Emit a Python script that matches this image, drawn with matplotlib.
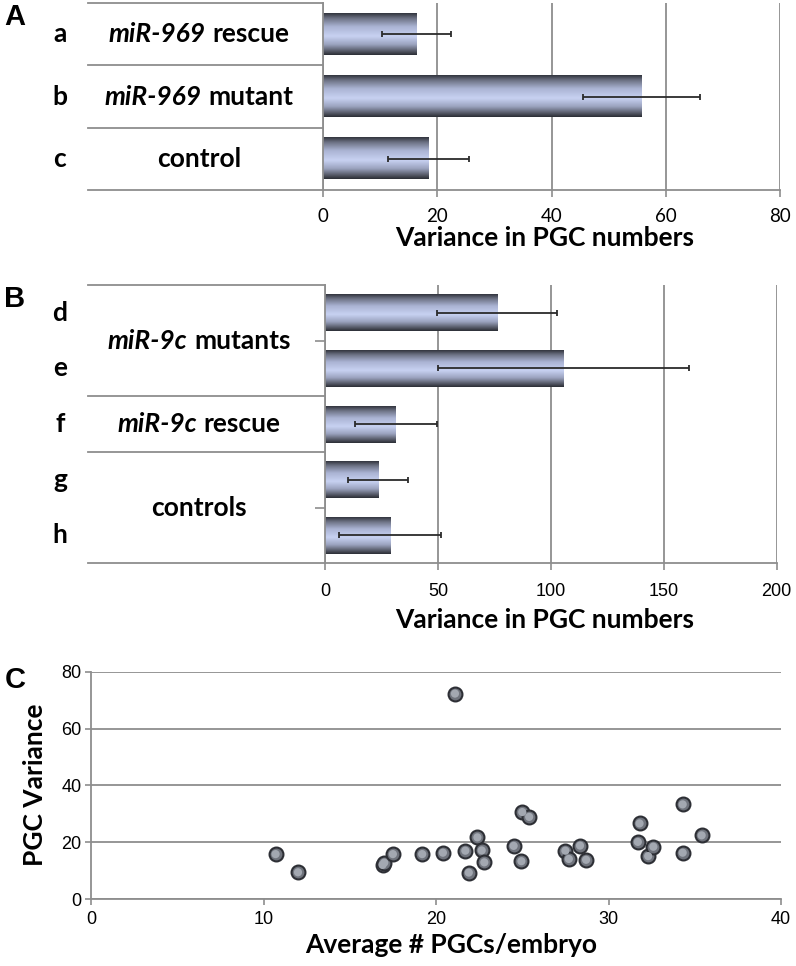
import numpy as np
import matplotlib
matplotlib.use("Agg")
import matplotlib.pyplot as plt
import matplotlib.transforms as mtransforms
from matplotlib.colors import LinearSegmentedColormap
from matplotlib.offsetbox import TextArea, HPacker, AnnotationBbox

W, H = 796, 966

# Panel A - variance in PGC numbers (miR-969)
cats_a = ['a', 'b', 'c']
var_a = [16.4, 55.8, 18.5]
err_a = [6.0, 10.2, 7.1]
groups_a = [('miR-969', 'rescue'), ('miR-969', 'mutant'), ('', 'control')]
rows_a = [(0, 0), (1, 1), (2, 2)]
ticks_a = [0, 20, 40, 60, 80]

# Panel B - variance in PGC numbers (miR-9c)
cats_b = ['d', 'e', 'f', 'g', 'h']
var_b = [76.3, 105.5, 31.4, 23.5, 28.8]
err_b = [26.5, 55.5, 18.3, 13.2, 22.6]
groups_b = [('miR-9c', 'mutants'), ('miR-9c', 'rescue'), ('', 'controls')]
rows_b = [(0, 1), (2, 2), (3, 4)]
ticks_b = [0, 50, 100, 150, 200]

# Panel C - PGC variance vs average PGCs per embryo
avg_pgcs = [10.7, 12.0, 16.9, 17.0, 17.5, 19.2, 20.4, 21.1, 21.7, 21.9,
            22.4, 22.65, 22.8, 24.5, 24.95, 25.0, 25.4, 27.5, 27.7, 28.35,
            28.7, 31.7, 31.8, 32.3, 32.6, 34.3, 34.3, 35.4]
pgc_var = [15.8, 9.4, 12.0, 12.8, 15.8, 15.8, 16.3, 72.3, 17.0, 9.3,
           21.7, 17.1, 12.9, 18.7, 13.3, 30.6, 28.9, 17.0, 14.1, 18.8,
           13.8, 20.1, 26.6, 15.1, 18.4, 33.3, 16.3, 22.4]

GRAY = '#8e8e8e'
BOLD_FONT = 'Lato'
ARIAL = 'Liberation Sans'
LABEL_FS = 19

bar_cmap = LinearSegmentedColormap.from_list('bar', [
    (0.0, '#30333c'), (0.12, '#6b7082'), (0.32, '#aab3d3'), (0.55, '#c8d2f2'),
    (0.75, '#9ba3bf'), (0.9, '#585c6a'), (1.0, '#2a2c33')])
grad = np.linspace(0, 1, 256).reshape(-1, 1)


def px_rect(l, t, r, b):
    return [l / W, 1 - b / H, (r - l) / W, (b - t) / H]


fig = plt.figure(figsize=(W / 100, H / 100), dpi=100, facecolor='white')


def bar_panel(l, t, r, b, cats, vals, errs, groups, rows, ticks,
              tick_font, tick_fs, tick_pad):
    ax = fig.add_axes(px_rect(l, t, r, b))
    n = len(cats)
    y = np.arange(n)
    bars = ax.barh(y, vals, height=0.66, color='none', zorder=2)
    for p in bars:
        x0, y0, w, h = p.get_x(), p.get_y(), p.get_width(), p.get_height()
        ax.imshow(grad, cmap=bar_cmap, aspect='auto', origin='upper',
                  extent=(x0, x0 + w, y0 + h, y0), interpolation='bicubic', zorder=2)
    ax.errorbar(vals, y, xerr=errs, fmt='none', ecolor='#2b2b2b',
                elinewidth=1.3, capsize=2, capthick=1.3, zorder=3)
    ax.set_xlim(ticks[0], ticks[-1])
    ax.set_ylim(n - 0.5, -0.5)
    ax.set_xticks(ticks)
    ax.set_yticks([])
    inner = [k + 0.5 for r0, r1 in rows for k in range(r0, r1)]
    ax.set_yticks(inner, minor=True)
    ax.tick_params(axis='y', which='minor', length=7, width=1.2, color=GRAY)
    ax.tick_params(axis='x', length=5, width=1.2, color=GRAY,
                   labelsize=tick_fs, pad=tick_pad)
    for lbl in ax.get_xticklabels():
        lbl.set_fontfamily(tick_font)
    for s in ('top', 'right'):
        ax.spines[s].set_visible(False)
    for s in ('left', 'bottom'):
        ax.spines[s].set_color(GRAY)
        ax.spines[s].set_linewidth(1.3)
    ax.grid(axis='x', color=GRAY, lw=1.3)
    ax.set_axisbelow(True)

    # category box on the left (Excel multi-level axis)
    trans = mtransforms.blended_transform_factory(ax.transAxes, ax.transData)
    wpx = r - l
    box_left = (88 - l) / wpx
    bounds = sorted({r0 - 0.5 for r0, r1 in rows} | {r1 + 0.5 for r0, r1 in rows})
    for yb in bounds:
        ax.plot([box_left, 0], [yb, yb], color=GRAY, lw=1.3,
                transform=trans, clip_on=False)
    for i, c in enumerate(cats):
        ax.text((60 - l) / wpx, i, c, transform=trans, ha='center', va='center',
                fontfamily=BOLD_FONT, fontweight='bold', fontsize=LABEL_FS)
    for (ital, plain), (r0, r1) in zip(groups, rows):
        parts = []
        if ital:
            parts.append(TextArea(ital, textprops=dict(
                fontfamily=BOLD_FONT, fontweight='bold', fontstyle='italic',
                fontsize=LABEL_FS)))
        parts.append(TextArea(plain, textprops=dict(
            fontfamily=BOLD_FONT, fontweight='bold', fontsize=LABEL_FS)))
        box = HPacker(children=parts, align='baseline', pad=0, sep=5)
        ab = AnnotationBbox(box, ((199 - l) / wpx, (r0 + r1) / 2), xycoords=trans,
                            frameon=False, box_alignment=(0.5, 0.5), pad=0,
                            annotation_clip=False)
        ax.add_artist(ab)
    return ax


ax_a = bar_panel(323, 3, 780, 190, cats_a, var_a, err_a, groups_a, rows_a,
                 ticks_a, BOLD_FONT, 13.5, 8)
ax_b = bar_panel(325, 285, 776.7, 563.3, cats_b, var_b, err_b, groups_b, rows_b,
                 ticks_b, ARIAL, 13, 9)

fig.text(545 / W, 1 - 238 / H, 'Variance in PGC numbers', ha='center', va='center',
         fontfamily=BOLD_FONT, fontweight='bold', fontsize=LABEL_FS)
fig.text(545 / W, 1 - 620 / H, 'Variance in PGC numbers', ha='center', va='center',
         fontfamily=BOLD_FONT, fontweight='bold', fontsize=LABEL_FS)

# Panel C scatter
ax_c = fig.add_axes(px_rect(91, 671.7, 781, 899))
ax_c.scatter(avg_pgcs, pgc_var, s=100, c='#6f737c', edgecolors='#2d2f35',
             linewidths=1.5, zorder=3)
ax_c.scatter(avg_pgcs, pgc_var, s=35, c='#a3a8b1', edgecolors='none', zorder=4)
ax_c.set_xlim(0, 40)
ax_c.set_ylim(0, 80)
ax_c.set_xticks([0, 10, 20, 30, 40])
ax_c.set_yticks([0, 20, 40, 60, 80])
ax_c.tick_params(length=4, width=1.2, color=GRAY, labelsize=13, pad=3)
ax_c.tick_params(axis='x', pad=5)
for lbl in ax_c.get_xticklabels() + ax_c.get_yticklabels():
    lbl.set_fontfamily(ARIAL)
for s in ('top', 'right'):
    ax_c.spines[s].set_visible(False)
for s in ('left', 'bottom'):
    ax_c.spines[s].set_color(GRAY)
    ax_c.spines[s].set_linewidth(1.3)
ax_c.grid(axis='y', color=GRAY, lw=1.3)
ax_c.set_axisbelow(True)
fig.text(451 / W, 1 - 945 / H, 'Average # PGCs/embryo', ha='center', va='center',
         fontfamily=BOLD_FONT, fontweight='bold', fontsize=LABEL_FS)
fig.text(35 / W, 1 - 785 / H, 'PGC Variance', ha='center', va='center',
         rotation=90, fontfamily=BOLD_FONT, fontweight='bold', fontsize=LABEL_FS)

# panel letters
for letter, (x, y) in zip('ABC', [(15, 17), (15, 299), (15, 680)]):
    fig.text(x / W, 1 - y / H, letter, ha='center', va='center',
             fontfamily=ARIAL, fontweight='bold', fontsize=21)

fig.savefig('out.png', dpi=100, facecolor='white')
